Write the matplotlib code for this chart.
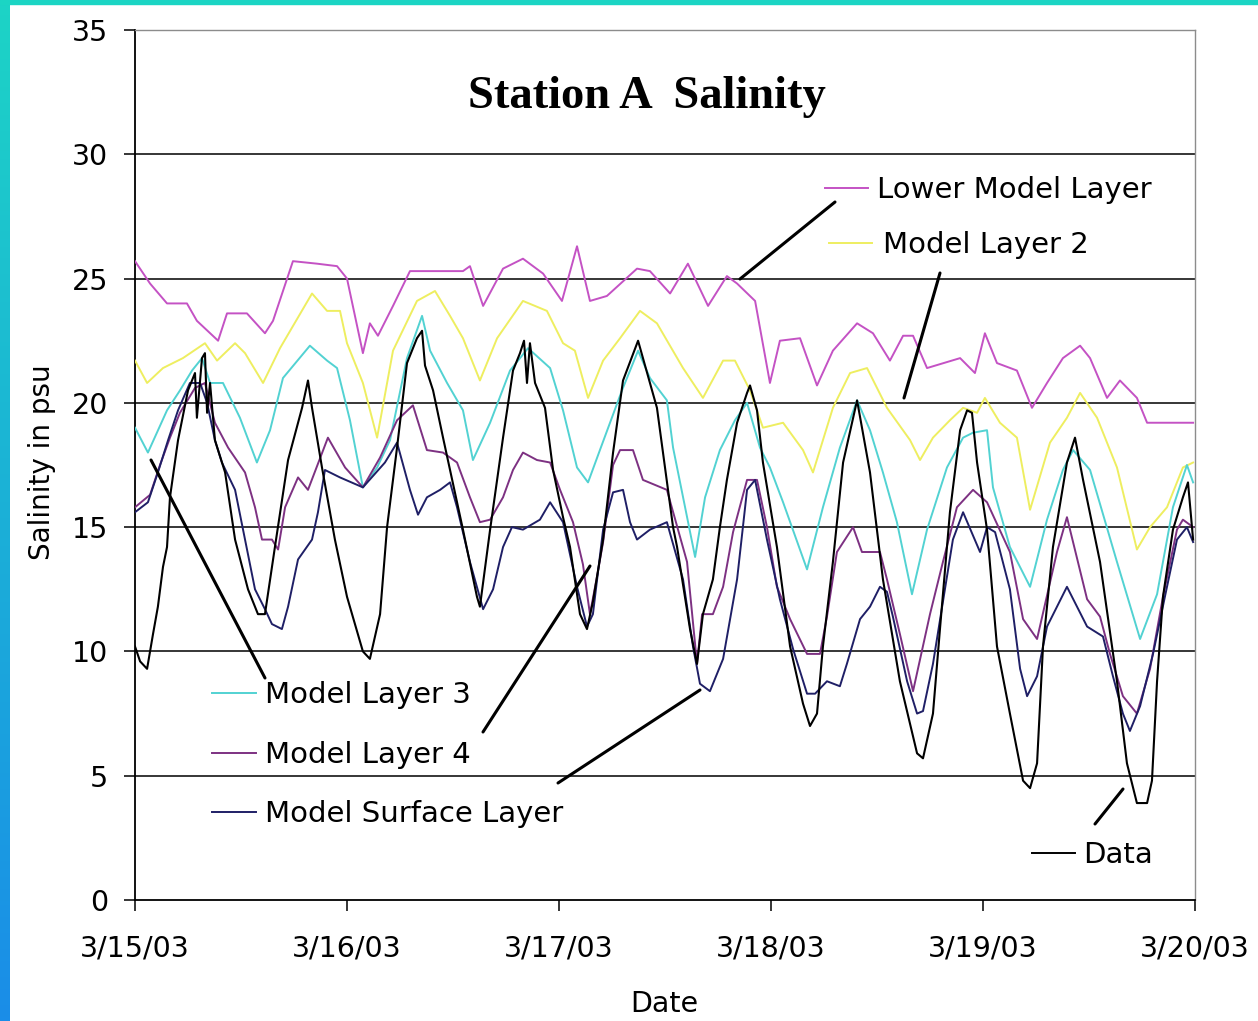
import matplotlib
matplotlib.use("Agg")
import matplotlib.pyplot as plt
import numpy as np
from matplotlib.colors import LinearSegmentedColormap
from matplotlib.patches import Rectangle

# time axis: days since 3/15/03 00:00
DATE_LABELS = ["3/15/03", "3/16/03", "3/17/03", "3/18/03", "3/19/03", "3/20/03"]
Y_TICKS = [0, 5, 10, 15, 20, 25, 30, 35]

lower_day = [0.000, 0.071, 0.151, 0.245, 0.292, 0.392, 0.434, 0.528, 0.613, 0.651,
             0.745, 0.858, 0.953, 1.000, 1.075, 1.108, 1.146, 1.217, 1.297, 1.547,
             1.580, 1.642, 1.736, 1.830, 1.925, 2.014, 2.085, 2.146, 2.226, 2.368,
             2.429, 2.524, 2.608, 2.703, 2.792, 2.840, 2.925, 2.995, 3.042, 3.137,
             3.217, 3.292, 3.406, 3.481, 3.561, 3.623, 3.670, 3.736, 3.892, 3.962,
             4.009, 4.066, 4.160, 4.231, 4.302, 4.377, 4.458, 4.505, 4.585, 4.646,
             4.726, 4.774, 4.991]
lower_psu = [25.7, 24.8, 24.0, 24.0, 23.3, 22.5, 23.6, 23.6, 22.8, 23.3,
             25.7, 25.6, 25.5, 25.0, 22.0, 23.2, 22.7, 23.9, 25.3, 25.3,
             25.5, 23.9, 25.4, 25.8, 25.2, 24.1, 26.3, 24.1, 24.3, 25.4,
             25.3, 24.4, 25.6, 23.9, 25.1, 24.8, 24.1, 20.8, 22.5, 22.6,
             20.7, 22.1, 23.2, 22.8, 21.7, 22.7, 22.7, 21.4, 21.8, 21.2,
             22.8, 21.6, 21.3, 19.8, 20.8, 21.8, 22.3, 21.8, 20.2, 20.9,
             20.2, 19.2, 19.2]

layer2_day = [0.000, 0.057, 0.132, 0.226, 0.330, 0.387, 0.472, 0.519, 0.604, 0.684,
              0.835, 0.906, 0.967, 1.000, 1.075, 1.142, 1.217, 1.330, 1.415, 1.486,
              1.547, 1.627, 1.708, 1.830, 1.943, 2.019, 2.075, 2.137, 2.208, 2.288,
              2.382, 2.462, 2.585, 2.679, 2.774, 2.830, 2.901, 2.962, 3.057, 3.151,
              3.198, 3.292, 3.373, 3.453, 3.547, 3.656, 3.703, 3.764, 3.844, 3.906,
              3.972, 4.009, 4.080, 4.160, 4.222, 4.316, 4.396, 4.458, 4.538, 4.632,
              4.726, 4.788, 4.868, 4.943, 4.991]
layer2_psu = [21.7, 20.8, 21.4, 21.8, 22.4, 21.7, 22.4, 22.0, 20.8, 22.2,
              24.4, 23.7, 23.7, 22.4, 20.8, 18.6, 22.1, 24.1, 24.5, 23.5,
              22.6, 20.9, 22.6, 24.1, 23.7, 22.4, 22.1, 20.2, 21.7, 22.6,
              23.7, 23.2, 21.4, 20.2, 21.7, 21.7, 20.5, 19.0, 19.2, 18.1,
              17.2, 19.8, 21.2, 21.4, 19.8, 18.5, 17.7, 18.6, 19.3, 19.8,
              19.6, 20.2, 19.2, 18.6, 15.7, 18.4, 19.4, 20.4, 19.4, 17.4,
              14.1, 15.0, 15.8, 17.4, 17.6]

layer3_day = [0.000, 0.061, 0.151, 0.212, 0.269, 0.316, 0.354, 0.415, 0.495, 0.575,
              0.637, 0.698, 0.825, 0.906, 0.953, 1.014, 1.075, 1.142, 1.203, 1.283,
              1.354, 1.392, 1.472, 1.547, 1.594, 1.675, 1.769, 1.854, 1.958, 2.019,
              2.085, 2.137, 2.193, 2.297, 2.373, 2.429, 2.509, 2.538, 2.642, 2.689,
              2.759, 2.830, 2.887, 2.948, 2.995, 3.057, 3.170, 3.245, 3.325, 3.406,
              3.467, 3.528, 3.594, 3.665, 3.736, 3.830, 3.906, 3.953, 4.019, 4.047,
              4.127, 4.222, 4.302, 4.377, 4.425, 4.505, 4.632, 4.741, 4.821, 4.896,
              4.962, 4.991]
layer3_psu = [19.0, 18.0, 19.7, 20.5, 21.3, 21.8, 20.8, 20.8, 19.4, 17.6,
              18.9, 21.0, 22.3, 21.7, 21.4, 19.3, 16.6, 17.4, 18.5, 21.8,
              23.5, 22.1, 20.8, 19.7, 17.7, 19.2, 21.3, 22.2, 21.4, 19.7,
              17.4, 16.8, 18.1, 20.5, 22.1, 21.0, 20.1, 18.2, 13.8, 16.2,
              18.1, 19.3, 20.0, 18.2, 17.4, 16.0, 13.3, 15.8, 18.2, 20.1,
              18.9, 17.2, 15.2, 12.3, 14.9, 17.4, 18.6, 18.8, 18.9, 16.6,
              14.2, 12.6, 15.3, 17.3, 18.1, 17.3, 13.6, 10.5, 12.3, 15.8,
              17.5, 16.8]

layer4_day = [0.000, 0.071, 0.118, 0.165, 0.212, 0.283, 0.330, 0.377, 0.439, 0.519,
              0.566, 0.599, 0.646, 0.675, 0.708, 0.769, 0.816, 0.910, 0.991, 1.075,
              1.156, 1.236, 1.311, 1.377, 1.453, 1.519, 1.580, 1.627, 1.675, 1.736,
              1.783, 1.830, 1.896, 1.958, 2.005, 2.066, 2.113, 2.146, 2.179, 2.208,
              2.255, 2.288, 2.349, 2.396, 2.509, 2.604, 2.651, 2.675, 2.726, 2.774,
              2.821, 2.887, 2.934, 2.981, 3.028, 3.090, 3.170, 3.231, 3.264, 3.311,
              3.387, 3.429, 3.514, 3.547, 3.608, 3.670, 3.750, 3.811, 3.877, 3.953,
              4.019, 4.127, 4.189, 4.255, 4.349, 4.396, 4.491, 4.552, 4.599, 4.660,
              4.726, 4.788, 4.849, 4.915, 4.943, 4.991]
layer4_psu = [15.8, 16.3, 17.5, 18.6, 19.6, 20.6, 20.8, 19.2, 18.2, 17.2,
              15.8, 14.5, 14.5, 14.1, 15.8, 17.0, 16.5, 18.6, 17.4, 16.6,
              17.8, 19.3, 19.9, 18.1, 18.0, 17.6, 16.2, 15.2, 15.3, 16.2,
              17.3, 18.0, 17.7, 17.6, 16.5, 15.2, 13.5, 11.5, 13.0, 14.4,
              17.5, 18.1, 18.1, 16.9, 16.5, 13.6, 9.5, 11.5, 11.5, 12.6,
              14.8, 16.9, 16.9, 15.0, 12.6, 11.3, 9.9, 9.9, 11.4, 14.0,
              15.0, 14.0, 14.0, 12.9, 10.7, 8.4, 11.5, 13.6, 15.8, 16.5,
              16.0, 14.0, 11.3, 10.5, 14.0, 15.4, 12.1, 11.4, 9.9, 8.2,
              7.5, 9.3, 12.2, 14.9, 15.3, 15.0]

surface_day = [0.000, 0.061, 0.108, 0.156, 0.203, 0.259, 0.307, 0.340, 0.377, 0.410,
               0.472, 0.519, 0.566, 0.613, 0.646, 0.693, 0.722, 0.769, 0.835, 0.863,
               0.896, 0.967, 1.075, 1.179, 1.236, 1.297, 1.335, 1.377, 1.439, 1.486,
               1.519, 1.580, 1.642, 1.689, 1.736, 1.778, 1.830, 1.910, 1.958, 2.019,
               2.085, 2.132, 2.160, 2.208, 2.255, 2.302, 2.335, 2.368, 2.429, 2.509,
               2.585, 2.632, 2.665, 2.712, 2.774, 2.840, 2.887, 2.925, 2.981, 3.042,
               3.104, 3.170, 3.208, 3.264, 3.325, 3.358, 3.420, 3.467, 3.514, 3.547,
               3.575, 3.642, 3.689, 3.717, 3.764, 3.858, 3.906, 3.986, 4.019, 4.057,
               4.127, 4.175, 4.208, 4.255, 4.302, 4.396, 4.491, 4.566, 4.613, 4.660,
               4.693, 4.741, 4.802, 4.858, 4.915, 4.962, 4.991]
surface_psu = [15.6, 16.0, 17.2, 18.5, 19.7, 20.8, 20.8, 20.0, 18.5, 17.6,
               16.5, 14.5, 12.5, 11.7, 11.1, 10.9, 11.8, 13.7, 14.5, 15.6,
               17.3, 17.0, 16.6, 17.6, 18.4, 16.5, 15.5, 16.2, 16.5, 16.8,
               15.8, 13.6, 11.7, 12.5, 14.2, 15.0, 14.9, 15.3, 16.0, 15.2,
               12.6, 11.0, 11.5, 14.9, 16.4, 16.5, 15.2, 14.5, 14.9, 15.2,
               12.9, 10.2, 8.7, 8.4, 9.7, 12.9, 16.5, 16.9, 14.5, 12.1,
               10.1, 8.3, 8.3, 8.8, 8.6, 9.5, 11.3, 11.8, 12.6, 12.4,
               11.4, 8.8, 7.5, 7.6, 9.5, 14.5, 15.6, 14.0, 15.0, 14.8,
               12.5, 9.3, 8.2, 9.0, 11.0, 12.6, 11.0, 10.6, 9.0, 7.5,
               6.8, 7.8, 9.9, 12.2, 14.5, 15.0, 14.4]

data_day = [0.000, 0.024, 0.057, 0.085, 0.108, 0.132, 0.151, 0.165, 0.203, 0.250,
            0.283, 0.292, 0.316, 0.330, 0.340, 0.354, 0.377, 0.425, 0.472, 0.533,
            0.580, 0.613, 0.660, 0.722, 0.788, 0.816, 0.835, 0.882, 0.943, 1.000,
            1.075, 1.108, 1.156, 1.189, 1.236, 1.283, 1.330, 1.354, 1.368, 1.406,
            1.453, 1.486, 1.547, 1.613, 1.627, 1.675, 1.708, 1.736, 1.783, 1.816,
            1.835, 1.849, 1.863, 1.887, 1.934, 1.972, 2.019, 2.052, 2.099, 2.132,
            2.160, 2.208, 2.255, 2.302, 2.373, 2.429, 2.462, 2.538, 2.557, 2.618,
            2.651, 2.679, 2.726, 2.759, 2.792, 2.840, 2.887, 2.901, 2.934, 2.962,
            3.028, 3.090, 3.151, 3.184, 3.217, 3.245, 3.292, 3.340, 3.406, 3.467,
            3.528, 3.608, 3.689, 3.717, 3.764, 3.797, 3.844, 3.892, 3.925, 3.948,
            3.972, 4.019, 4.066, 4.127, 4.189, 4.222, 4.255, 4.283, 4.330, 4.396,
            4.434, 4.472, 4.552, 4.632, 4.679, 4.726, 4.774, 4.797, 4.821, 4.849,
            4.896, 4.943, 4.967, 4.991]
data_psu = [10.2, 9.6, 9.3, 10.7, 11.8, 13.4, 14.2, 16.2, 18.5, 20.5,
            21.2, 19.4, 21.8, 22.0, 19.6, 20.8, 18.5, 17.2, 14.5, 12.5,
            11.5, 11.5, 14.2, 17.7, 19.8, 20.9, 19.8, 17.4, 14.5, 12.2,
            10.0, 9.7, 11.5, 15.0, 18.2, 21.6, 22.6, 22.9, 21.5, 20.5,
            18.6, 17.3, 14.9, 12.2, 11.8, 14.9, 16.9, 18.6, 21.3, 22.0,
            22.5, 20.8, 22.4, 20.8, 19.8, 17.3, 15.4, 14.2, 11.5, 10.9,
            12.0, 14.5, 18.0, 20.9, 22.5, 20.8, 19.8, 15.0, 14.2, 10.9,
            9.5, 11.5, 12.9, 15.0, 16.9, 19.2, 20.4, 20.7, 19.7, 17.6,
            14.2, 10.2, 7.9, 7.0, 7.5, 10.2, 13.6, 17.6, 20.1, 17.2,
            12.9, 8.8, 5.9, 5.7, 7.5, 10.9, 15.6, 18.9, 19.7, 19.6,
            17.6, 14.9, 10.2, 7.5, 4.8, 4.5, 5.5, 10.2, 14.2, 17.6,
            18.6, 16.9, 13.6, 8.8, 5.5, 3.9, 3.9, 4.8, 8.8, 12.2,
            14.9, 16.2, 16.8, 14.5]

# figure geometry in pixels of the reference
W, H = 1258, 1021
AX_L, AX_R, AX_T, AX_B = 135, 1195, 30, 900


def frac(x, y):
    """pixel position -> axes fraction"""
    return (x - AX_L) / (AX_R - AX_L), (AX_B - y) / (AX_B - AX_T)


SANS = "DejaVu Sans"

fig = plt.figure(figsize=(W / 100, H / 100), dpi=100, facecolor="white")

# slide border: gradient strip on the left, thin teal line on top
strip = fig.add_axes([0, 0, 10 / W, 1])
border_cmap = LinearSegmentedColormap.from_list("border", ["#1dd4c6", "#1a8de8"])
strip.imshow(np.linspace(0, 1, 256)[:, None], cmap=border_cmap, aspect="auto")
strip.axis("off")
fig.patches.append(Rectangle((0, 1 - 4 / H), 1, 4 / H, transform=fig.transFigure,
                             color="#1bd5c4", zorder=0))

ax = fig.add_axes([AX_L / W, (H - AX_B) / H, (AX_R - AX_L) / W, (AX_B - AX_T) / H])

series = [
    (lower_day, lower_psu, "#c452c4", "Lower Model Layer", 1.4),
    (layer2_day, layer2_psu, "#eeee60", "Model Layer 2", 1.4),
    (layer3_day, layer3_psu, "#52d2d2", "Model Layer 3", 1.4),
    (layer4_day, layer4_psu, "#7d3182", "Model Layer 4", 1.4),
    (surface_day, surface_psu, "#1f1f66", "Model Surface Layer", 1.4),
    (data_day, data_psu, "black", "Data", 1.5),
]
colors = {}
for days, psu, color, name, lw in series:
    ax.plot(days, psu, color=color, lw=lw, zorder=3)
    colors[name] = color

for yv in Y_TICKS[1:-1]:
    ax.axhline(yv, color="black", lw=1.1, zorder=1)

ax.set_xlim(0, 5)
ax.set_ylim(0, 35)
ax.set_xticks(range(len(DATE_LABELS)))
ax.set_xticklabels(DATE_LABELS)
ax.set_yticks(Y_TICKS)
ax.tick_params(axis="both", direction="out", length=8, width=1.1, labelsize=20.5)
ax.tick_params(axis="x", pad=16.5)
ax.tick_params(axis="y", pad=11.5)
for lab in ax.get_xticklabels() + ax.get_yticklabels():
    lab.set_family(SANS)

for side in ("left", "bottom"):
    ax.spines[side].set_color("black")
    ax.spines[side].set_linewidth(1.3)
for side in ("top", "right"):
    ax.spines[side].set_color("#8c8c8c")
    ax.spines[side].set_linewidth(1.0)

ax.set_ylabel("Salinity in psu", fontsize=20, family=SANS)
ax.yaxis.set_label_coords(*frac(50, 462))
ax.yaxis.label.set_va("baseline")
ax.set_xlabel("Date", fontsize=20.5, family=SANS)
ax.xaxis.set_label_coords(*frac(664, 1012))
ax.xaxis.label.set_va("baseline")

ax.text(*frac(647, 108), "Station A  Salinity", transform=ax.transAxes,
        ha="center", va="baseline", fontsize=33.5, fontweight="bold",
        family="Liberation Serif")

# in-plot legend entries: (name, line x0, line x1, line y, text x, baseline y)
legend_entries = [
    ("Lower Model Layer", 825, 868, 188, 877, 198),
    ("Model Layer 2", 829, 872, 243, 883, 253),
    ("Model Layer 3", 212, 256, 693, 265, 703),
    ("Model Layer 4", 212, 256, 753, 265, 763),
    ("Model Surface Layer", 212, 256, 812, 265, 822),
    ("Data", 1032, 1075, 853, 1083, 863),
]
for name, x0, x1, ly, tx, ty in legend_entries:
    (a0, b0), (a1, b1) = frac(x0, ly), frac(x1, ly)
    ax.plot([a0, a1], [b0, b1], color=colors[name], lw=1.4,
            transform=ax.transAxes, clip_on=False, zorder=4)
    ax.text(*frac(tx, ty), name, transform=ax.transAxes, ha="left", va="baseline",
            fontsize=21, family=SANS, zorder=5)

# leader lines from labels to curves
leaders = [
    ((835, 202), (740, 279)),
    ((940, 273), (904, 398)),
    ((265, 678), (151, 460)),
    ((483, 732), (590, 566)),
    ((558, 783), (700, 690)),
    ((1095, 824), (1123, 789)),
]
for p0, p1 in leaders:
    (a0, b0), (a1, b1) = frac(*p0), frac(*p1)
    ax.plot([a0, a1], [b0, b1], color="black", lw=2.2, transform=ax.transAxes,
            clip_on=False, zorder=6, solid_capstyle="round")

fig.savefig("out.png", dpi=100, facecolor="white")
